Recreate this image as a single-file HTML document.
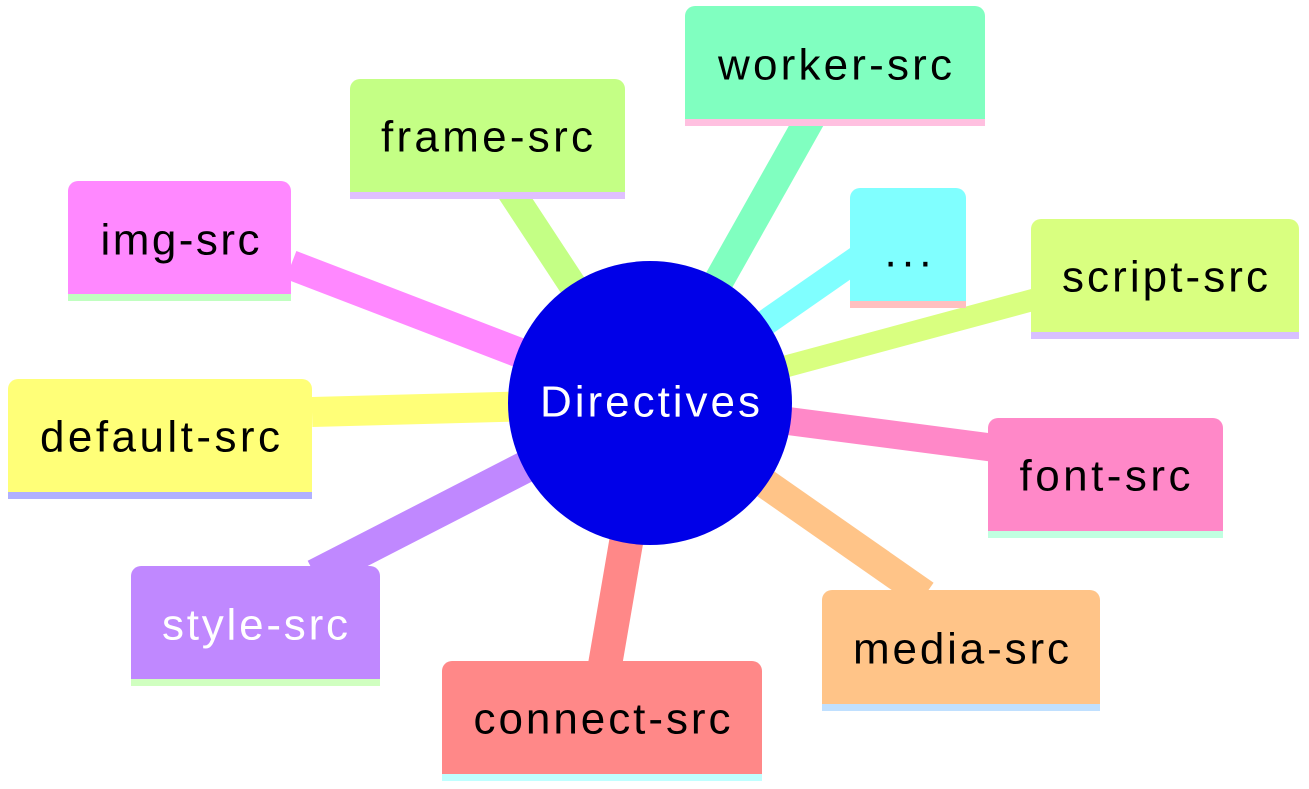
<!DOCTYPE html>
<html><head><meta charset="utf-8"><style>
html,body{margin:0;padding:0;background:#fff;}
svg{display:block;}
text{font-family:"Liberation Sans","DejaVu Sans",sans-serif;font-size:44px;dominant-baseline:middle;text-anchor:middle;}
</style></head><body>
<svg width="1309" height="789" viewBox="0 0 1309 789" xmlns="http://www.w3.org/2000/svg">
<g stroke-linecap="butt" fill="none">
<line x1="650" y1="403" x2="815" y2="110" stroke="#80ffc0" stroke-width="30"/>
<line x1="650" y1="403" x2="510" y2="190" stroke="#c4ff85" stroke-width="28"/>
<line x1="650" y1="403" x2="291" y2="265" stroke="#ff88ff" stroke-width="30"/>
<line x1="650" y1="403" x2="870" y2="250" stroke="#80ffff" stroke-width="26"/>
<line x1="650" y1="403" x2="1040" y2="298" stroke="#d9ff80" stroke-width="22"/>
<line x1="650" y1="403" x2="312" y2="412" stroke="#ffff78" stroke-width="30"/>
<line x1="650" y1="403" x2="995" y2="448" stroke="#ff88c8" stroke-width="28"/>
<line x1="650" y1="403" x2="315" y2="575" stroke="#c088ff" stroke-width="32"/>
<line x1="650" y1="403" x2="925" y2="595" stroke="#ffc488" stroke-width="30"/>
<line x1="650" y1="403" x2="605" y2="665" stroke="#ff8888" stroke-width="34"/>
</g>
<!-- nodes: rounded-top rect + bottom strip -->
<g>
<path d="M685,126 V16 a10,10 0 0 1 10,-10 H975 a10,10 0 0 1 10,10 V126 Z" fill="#80ffc0"/><rect x="685" y="119" width="300" height="7" fill="#ffc0e0"/>
<text x="835" y="68" textLength="234">worker-src</text>

<path d="M350,199 V89 a10,10 0 0 1 10,-10 H615 a10,10 0 0 1 10,10 V199 Z" fill="#c4ff85"/><rect x="350" y="192" width="275" height="7" fill="#e0c0ff"/>
<text x="487" y="140" textLength="212">frame-src</text>

<path d="M68,301 V191 a10,10 0 0 1 10,-10 H281 a10,10 0 0 1 10,10 V301 Z" fill="#ff88ff"/><rect x="68" y="294" width="223" height="7" fill="#c0ffc0"/>
<text x="180" y="243" textLength="159">img-src</text>

<path d="M850,308 V198 a10,10 0 0 1 10,-10 H956 a10,10 0 0 1 10,10 V308 Z" fill="#80ffff"/><rect x="850" y="301" width="116" height="7" fill="#ffc0c0"/>
<text x="908" y="255" textLength="47">...</text>

<path d="M1031,339 V229 a10,10 0 0 1 10,-10 H1289 a10,10 0 0 1 10,10 V339 Z" fill="#d9ff80"/><rect x="1031" y="332" width="268" height="7" fill="#d8c0ff"/>
<text x="1165" y="280" textLength="206">script-src</text>

<path d="M8,499 V389 a10,10 0 0 1 10,-10 H302 a10,10 0 0 1 10,10 V499 Z" fill="#ffff78"/><rect x="8" y="492" width="304" height="7" fill="#b0b0ff"/>
<text x="160" y="440" textLength="240">default-src</text>

<path d="M988,538 V428 a10,10 0 0 1 10,-10 H1213 a10,10 0 0 1 10,10 V538 Z" fill="#ff88c8"/><rect x="988" y="531" width="235" height="7" fill="#c0ffe0"/>
<text x="1105" y="479" textLength="171">font-src</text>

<path d="M131,686 V576 a10,10 0 0 1 10,-10 H370 a10,10 0 0 1 10,10 V686 Z" fill="#c088ff"/><rect x="131" y="679" width="249" height="7" fill="#d0ffc0"/>
<text x="255" y="628" textLength="186" fill="#fff">style-src</text>

<path d="M822,711 V600 a10,10 0 0 1 10,-10 H1090 a10,10 0 0 1 10,10 V711 Z" fill="#ffc488"/><rect x="822" y="704" width="278" height="7" fill="#c0e0ff"/>
<text x="961" y="652" textLength="216">media-src</text>

<path d="M442,781 V671 a10,10 0 0 1 10,-10 H752 a10,10 0 0 1 10,10 V781 Z" fill="#ff8888"/><rect x="442" y="774" width="320" height="7" fill="#c0ffff"/>
<text x="602" y="722" textLength="257">connect-src</text>
</g>
<circle cx="650" cy="403" r="142" fill="#0000e8"/>
<text x="650" y="405" textLength="220" fill="#fff">Directives</text>
</svg>
</body></html>
